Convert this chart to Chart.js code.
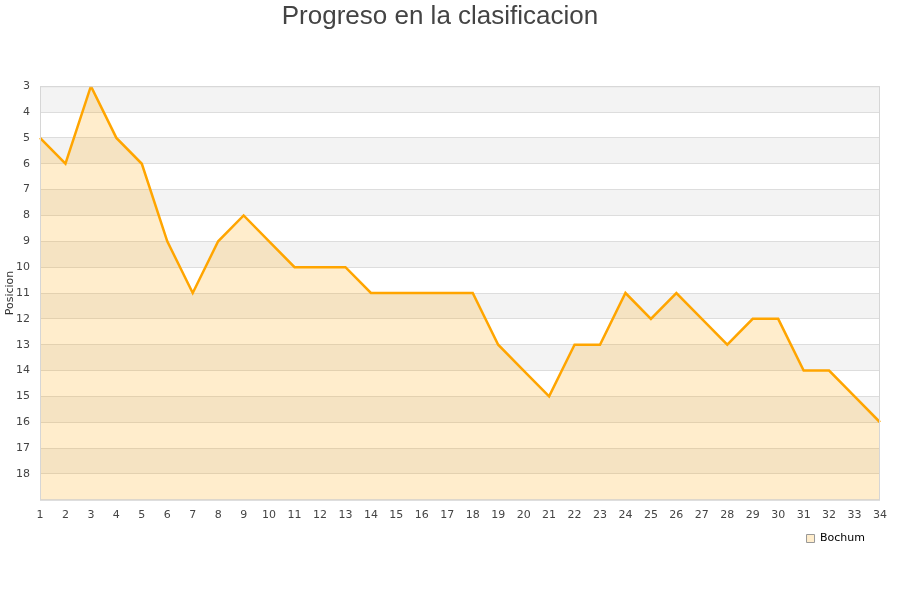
<!DOCTYPE html>
<html>
<head>
<meta charset="utf-8">
<script src="https://cdn.jsdelivr.net/npm/chart.js@4/dist/chart.umd.min.js"></script>
<style>
  html, body { margin: 0; padding: 0; background: #fff; }
  #wrap { width: 900px; height: 600px; }
</style>
</head>
<body>
<div id="wrap"><canvas id="grafico"></canvas></div>
<script>
// Jornadas y posición del Bochum
const jornadas = ['1','2','3','4','5','6','7','8','9','10','11','12','13','14','15','16','17',
                  '18','19','20','21','22','23','24','25','26','27','28','29','30','31','32','33','34'];
const posiciones = [5, 6, 3, 5, 6, 9, 11, 9, 8, 9, 10, 10, 10, 11, 11, 11, 11,
                    11, 13, 14, 15, 13, 13, 11, 12, 11, 12, 13, 12, 12, 14, 14, 15, 16];
const equipo = 'Bochum';
const posMin = 3;
const posMax = 19;

// Bandas alternas, marco del área y leyenda algo desplazada
const bandas = {
    id: 'bandas',
    afterLayout(chart) {
        const lg = chart.legend;
        lg.right -= 9;
        lg.top -= 4;
        lg.bottom -= 4;
    },
    beforeDraw(chart) {
        const { ctx, chartArea: a, scales: { y } } = chart;
        ctx.save();
        ctx.fillStyle = '#f3f3f3';
        for (let v = posMin; v < posMax; v += 2) {
            const y1 = y.getPixelForValue(v);
            const y2 = y.getPixelForValue(v + 1);
            ctx.fillRect(a.left, y1, a.right - a.left, y2 - y1);
        }
        ctx.restore();
    },
    afterDraw(chart) {
        const { ctx, chartArea: a } = chart;
        ctx.save();
        ctx.strokeStyle = '#d6d6d6';
        ctx.lineWidth = 1;
        ctx.strokeRect(a.left + 0.5, a.top + 0.5, a.right - a.left - 1, a.bottom - a.top);
        ctx.restore();
    }
};

new Chart(document.getElementById('grafico'), {
    type: 'line',
    data: {
        labels: jornadas,
        datasets: [{
            label: equipo,
            data: posiciones,
            borderColor: '#ffa500',
            backgroundColor: 'rgba(255,165,0,0.2)',
            borderWidth: 2.5,
            pointRadius: 0,
            tension: 0,
            fill: { value: posMax }
        }]
    },
    plugins: [bandas],
    options: {
        responsive: true,
        maintainAspectRatio: false,
        animation: false,
        layout: { padding: { left: 0, right: 20, top: 0, bottom: 42 } },
        plugins: {
            title: {
                display: true,
                text: 'Progreso en la clasificacion',
                color: '#444',
                font: { family: 'Liberation Sans', size: 26, weight: 'normal' },
                padding: { top: 1, bottom: 54 }
            },
            legend: {
                position: 'bottom',
                align: 'end',
                labels: {
                    color: '#000',
                    boxWidth: 8,
                    boxHeight: 8,
                    padding: 6,
                    font: { family: 'DejaVu Sans', size: 11 },
                    generateLabels(chart) {
                        return [{
                            text: equipo,
                            fillStyle: '#ffedcc',
                            strokeStyle: '#999',
                            lineWidth: 1,
                            datasetIndex: 0
                        }];
                    }
                }
            },
            tooltip: { enabled: false }
        },
        scales: {
            x: {
                offset: false,
                grid: { display: false, drawTicks: false },
                border: { display: false },
                ticks: {
                    color: '#444',
                    font: { family: 'DejaVu Sans', size: 11 },
                    padding: 9,
                    maxRotation: 0,
                    autoSkip: false
                }
            },
            y: {
                reverse: true,
                min: posMin,
                max: posMax,
                afterFit(scale) { scale.width = 40; },
                title: {
                    display: true,
                    text: 'Posicion',
                    color: '#333',
                    font: { family: 'DejaVu Sans', size: 11 },
                    padding: { top: 4, bottom: 0 }
                },
                grid: { color: '#dddddd', drawTicks: false },
                border: { display: false },
                ticks: {
                    stepSize: 1,
                    color: '#444',
                    padding: 10,
                    font: { family: 'DejaVu Sans', size: 11 },
                    callback: v => (v === posMax ? '' : v)
                }
            }
        }
    }
});
</script>
</body>
</html>
